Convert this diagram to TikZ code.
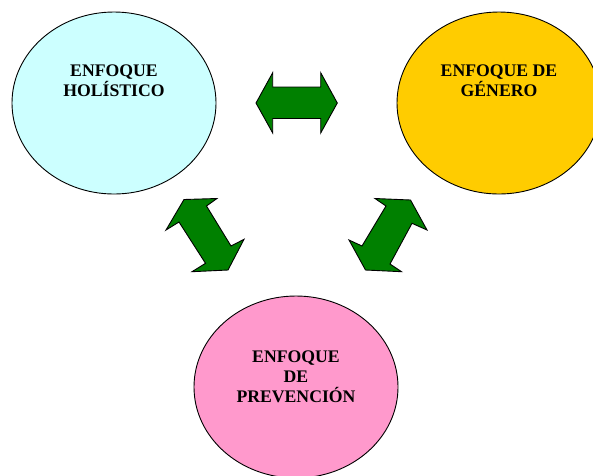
\documentclass[tikz,border=0pt]{standalone}
\usepackage{fontspec}
\setmainfont{Liberation Serif}
\usetikzlibrary{shapes.geometric}
\definecolor{celeste}{HTML}{CCFFFF}
\definecolor{oro}{HTML}{FFCC00}
\definecolor{rosa}{HTML}{FF99CC}
\definecolor{verde}{HTML}{008000}
\tikzset{
  enfoque/.style={ellipse,draw,line width=0.9pt,minimum width=204pt,minimum height=182pt,inner sep=0pt},
  rotulo/.style={align=center,font=\bfseries\fontsize{17.7}{20.3}\selectfont,inner sep=0pt},
  flecha/.style={draw,line width=0.9pt,fill=verde,line join=miter}
}
\begin{document}
\begin{tikzpicture}[x=1pt,y=-1pt]
		 \useasboundingbox (0,0) rectangle (593,475);
		 \node[enfoque,fill=celeste] (holistico) at (114,103) {}; \node[enfoque,fill=oro] (genero) at (499,103) {};
		 \node[enfoque,fill=rosa] (prevencion) at (296,387) {};
		 \node[rotulo] (tholistico) at (114,81) {ENFOQUE\\HOLÍSTICO}; \node[rotulo] (tgenero) at (499,81) {ENFOQUE DE\\GÉNERO};
		 \node[rotulo] (tprevencion) at (296,376.7) {ENFOQUE\\DE\\PREVENCIÓN};
		 \draw[flecha] (256,103) -- (272.7,72.7) -- (272.7,87) -- (320.7,87) -- (320.7,72.7) -- (337.3,103) -- (320.7,133) -- (320.7,118.5) -- (272.7,118.5) -- (272.7,133) -- cycle;
		 \draw[flecha] (166,230) -- (184,199.5) -- (217,198.5) -- (206.5,206) -- (231,246) -- (244,239.3) -- (228,270) -- (192,271.7) -- (205.5,263.3) -- (179,222) -- cycle;
		 \draw[flecha] (349,240) -- (365.5,270) -- (401.5,271.7) -- (390,264) -- (412,223.3) -- (427,230) -- (410.5,200) -- (375,198.5) -- (386,206) -- (362,246) -- cycle;
\end{tikzpicture}
\end{document}
